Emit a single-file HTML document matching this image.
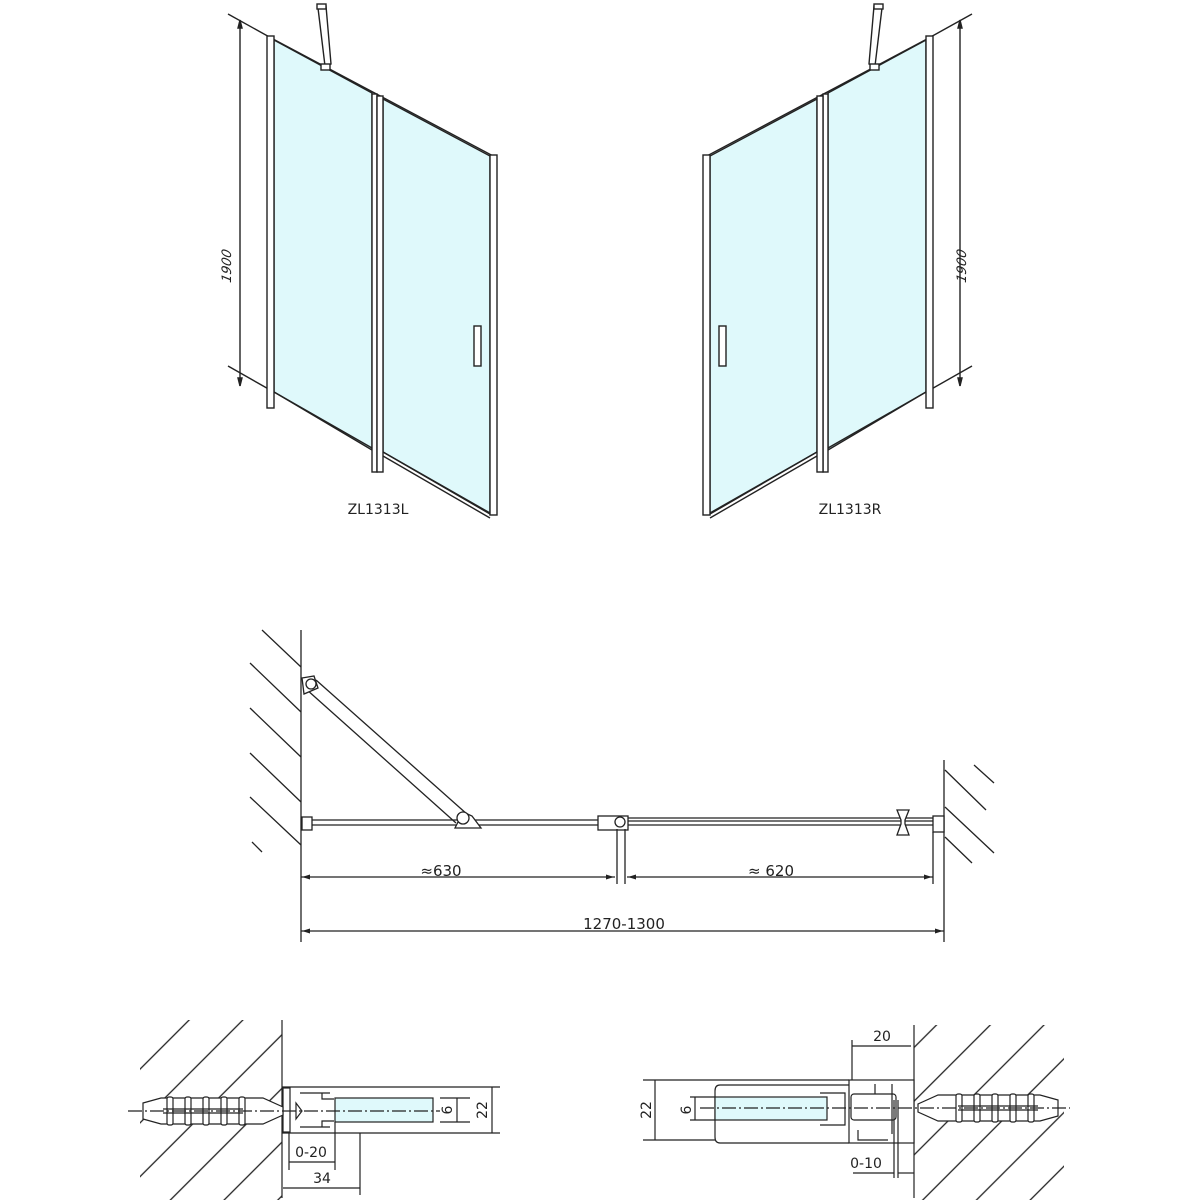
<!DOCTYPE html>
<html><head><meta charset="utf-8"><style>body{margin:0;background:#fff}svg{display:block}text{font-family:"DejaVu Sans","Liberation Sans",sans-serif;fill:#222}</style></head><body>
<svg width="1200" height="1200" viewBox="0 0 1200 1200" xmlns="http://www.w3.org/2000/svg">
<defs>
<g id="door" stroke="#222" stroke-width="1.4" fill="none">
<line x1="228" y1="14" x2="273" y2="39"/>
<line x1="228" y1="366" x2="272" y2="391"/>
<line x1="240" y1="20" x2="240" y2="386"/>
<path d="M240 20 l-2 8 h4z M240 386 l-2 -8 h4z" fill="#222"/>
<polygon points="274,40 372,93 372,450 274,392" fill="#dff9fb"/>
<polygon points="383,99 490,156 490,513 383,452" fill="#dff9fb"/>
<line x1="273" y1="39" x2="495" y2="157"/>
<line x1="274" y1="392" x2="372" y2="448"/>
<line x1="383" y1="452" x2="490" y2="514"/>
<line x1="383" y1="456" x2="490" y2="518"/>
<rect x="267" y="36" width="7" height="372" fill="#fff"/>
<rect x="372" y="94" width="5" height="378" fill="#fff"/>
<rect x="377" y="96" width="6" height="376" fill="#fff"/>
<rect x="490" y="155" width="7" height="360" fill="#fff"/>
<rect x="474" y="326" width="7" height="40" fill="#fff"/>
<polygon points="318,8 326,6 331,64 325,66" fill="#fff"/>
<rect x="317" y="4" width="9" height="5" fill="#fff"/>
<rect x="321" y="64" width="9" height="6" fill="#fff"/>
</g>
<pattern id="hl" patternUnits="userSpaceOnUse" width="38" height="38" patternTransform="rotate(45)"><line x1="19" y1="0" x2="19" y2="38" stroke="#222" stroke-width="1.3"/></pattern>
<g id="anchor" stroke="#222" stroke-width="1.2" fill="#fff">
<polygon points="0,-8 18,-13 120,-13 140,-4 140,4 120,13 18,13 0,8"/>
<rect x="24" y="-14" width="6" height="28" rx="2"/><rect x="42" y="-14" width="6" height="28" rx="2"/><rect x="60" y="-14" width="6" height="28" rx="2"/><rect x="78" y="-14" width="6" height="28" rx="2"/><rect x="96" y="-14" width="6" height="28" rx="2"/>
<line x1="20" y1="-2" x2="100" y2="-2"/><line x1="20" y1="2" x2="100" y2="2"/>
</g>
</defs>

<use href="#door"/>
<use href="#door" transform="translate(1200,0) scale(-1,1)"/>
<text x="231" y="220" font-size="13" transform="rotate(-90 231 220) skewX(-12)" text-anchor="middle" font-style="italic">1900</text>
<text x="966" y="220" font-size="13" transform="rotate(-90 966 220) skewX(-12)" text-anchor="middle" font-style="italic">1900</text>
<text x="378" y="514" font-size="14" text-anchor="middle">ZL1313L</text>
<text x="850" y="514" font-size="14" text-anchor="middle">ZL1313R</text>

<g stroke="#222" stroke-width="1.3" fill="none">
<line x1="301" y1="630" x2="301" y2="942"/>
<line x1="262" y1="630" x2="301" y2="667"/>
<line x1="250" y1="663" x2="301" y2="712"/>
<line x1="250" y1="708" x2="301" y2="757"/>
<line x1="250" y1="753" x2="301" y2="802"/>
<line x1="250" y1="797" x2="301" y2="845"/>
<line x1="252" y1="842" x2="262" y2="852"/>
<line x1="944" y1="760" x2="944" y2="942"/>
<line x1="945" y1="770" x2="986" y2="810"/>
<line x1="974" y1="765" x2="994" y2="783"/>
<line x1="945" y1="807" x2="994" y2="853"/>
<line x1="945" y1="837" x2="972" y2="863"/>
<line x1="311" y1="820" x2="598" y2="820"/>
<line x1="311" y1="825" x2="598" y2="825"/>
<line x1="628" y1="818" x2="933" y2="818"/>
<line x1="628" y1="821" x2="933" y2="821"/>
<line x1="628" y1="825" x2="933" y2="825"/>
<line x1="306" y1="689" x2="456" y2="823"/>
<line x1="316" y1="680" x2="468" y2="815"/>
<polygon points="302,678 314,676 318,688 304,694" fill="#fff"/>
<circle cx="311" cy="684" r="5" fill="#fff"/>
<polygon points="455,828 463,812 472,816 481,828" fill="#fff"/>
<circle cx="463" cy="818" r="6" fill="#fff"/>
<rect x="302" y="817" width="10" height="13" fill="#fff"/>
<rect x="598" y="816" width="30" height="14" fill="#fff"/>
<circle cx="620" cy="822" r="5"/>
<rect x="933" y="816" width="11" height="16" fill="#fff"/>
<path d="M897 810 h12 l-4 10 v4 l4 11 h-12 l4 -11 v-4 z" fill="#fff"/>
<line x1="617" y1="829" x2="617" y2="884"/>
<line x1="625" y1="829" x2="625" y2="884"/>
<line x1="933" y1="832" x2="933" y2="884"/>
<line x1="301" y1="877" x2="615" y2="877"/>
<line x1="627" y1="877" x2="933" y2="877"/>
<line x1="301" y1="931" x2="944" y2="931"/>
</g>
<g fill="#222">
<path d="M302 877 l8 -2.5 v5z M614 877 l-8 -2.5 v5z M628 877 l8 -2.5 v5z M932 877 l-8 -2.5 v5z M302 931 l8 -2.5 v5z M943 931 l-8 -2.5 v5z"/>
</g>
<text x="441" y="876" font-size="15" text-anchor="middle">≈630</text>
<text x="771" y="876" font-size="15" text-anchor="middle">≈ 620</text>
<text x="624" y="929" font-size="15" text-anchor="middle">1270-1300</text>

<rect x="140" y="1020" width="142" height="180" fill="url(#hl)"/>
<g stroke="#222" stroke-width="1.2" fill="none">
<line x1="282" y1="1020" x2="282" y2="1198"/>
<line x1="282" y1="1087" x2="500" y2="1087"/>
<line x1="282" y1="1133" x2="500" y2="1133"/>
<rect x="335" y="1098" width="98" height="24" fill="#dff9fb"/>
<line x1="440" y1="1098" x2="470" y2="1098"/><line x1="440" y1="1122" x2="470" y2="1122"/>
<rect x="283" y="1088" width="7" height="44" fill="#fff"/>
<path d="M300 1093 h30 M300 1127 h30 M322 1093 v6 h12 M322 1127 v-6 h12 M296 1103 l6 8 l-6 8z"/>
</g>
<use href="#anchor" transform="translate(143,1111)"/>
<g stroke="#222" stroke-width="1.2" fill="none">
<line x1="128" y1="1111" x2="440" y2="1111" stroke-dasharray="14 3 2 3"/>
<line x1="492" y1="1087" x2="492" y2="1133"/>
<line x1="457" y1="1098" x2="457" y2="1122"/>
<line x1="289" y1="1133" x2="289" y2="1170"/>
<line x1="335" y1="1122" x2="335" y2="1170"/>
<line x1="360" y1="1133" x2="360" y2="1195"/>
<line x1="289" y1="1162" x2="335" y2="1162"/>
<line x1="283" y1="1188" x2="360" y2="1188"/>
</g>
<text x="311" y="1157" font-size="14" text-anchor="middle">0-20</text>
<text x="322" y="1183" font-size="14" text-anchor="middle">34</text>
<text x="487" y="1110" font-size="14" text-anchor="middle" transform="rotate(-90 487 1110)">22</text>
<text x="452" y="1110" font-size="14" text-anchor="middle" transform="rotate(-90 452 1110)">6</text>

<rect x="914" y="1025" width="150" height="175" fill="url(#hl)"/>
<g stroke="#222" stroke-width="1.2" fill="none">
<line x1="914" y1="1025" x2="914" y2="1198"/>
<line x1="643" y1="1080" x2="849" y2="1080"/>
<line x1="643" y1="1140" x2="715" y2="1140"/>
<path d="M849 1085 H720 q-5 0 -5 6 v46 q0 6 5 6 H849" fill="#fff"/>
<rect x="715" y="1097" width="112" height="23" fill="#dff9fb"/>
<line x1="690" y1="1097" x2="715" y2="1097"/><line x1="690" y1="1120" x2="715" y2="1120"/>
<rect x="849" y="1080" width="65" height="63" fill="#fff"/>
<rect x="851" y="1094" width="45" height="26" rx="3"/>
<path d="M820 1093 h25 v32 h-25 M858 1130 v10 h30 M875 1084 v10 M892 1084 v50"/>
</g>
<use href="#anchor" transform="translate(1058,1108) scale(-1,1)"/>
<g stroke="#222" stroke-width="1.2" fill="none">
<line x1="700" y1="1108" x2="1070" y2="1108" stroke-dasharray="14 3 2 3"/>
<line x1="655" y1="1080" x2="655" y2="1140"/>
<line x1="695" y1="1097" x2="695" y2="1120"/>
<line x1="852" y1="1040" x2="852" y2="1080"/>
<line x1="852" y1="1046" x2="911" y2="1046"/>
<line x1="894" y1="1100" x2="894" y2="1178"/>
<line x1="898" y1="1100" x2="898" y2="1178"/>
<line x1="853" y1="1173" x2="894" y2="1173"/>
<line x1="898" y1="1173" x2="914" y2="1173"/>
</g>
<text x="882" y="1041" font-size="14" text-anchor="middle">20</text>
<text x="866" y="1168" font-size="14" text-anchor="middle">0-10</text>
<text x="651" y="1110" font-size="14" text-anchor="middle" transform="rotate(-90 651 1110)">22</text>
<text x="691" y="1110" font-size="14" text-anchor="middle" transform="rotate(-90 691 1110)">6</text>
</svg>
</body></html>
